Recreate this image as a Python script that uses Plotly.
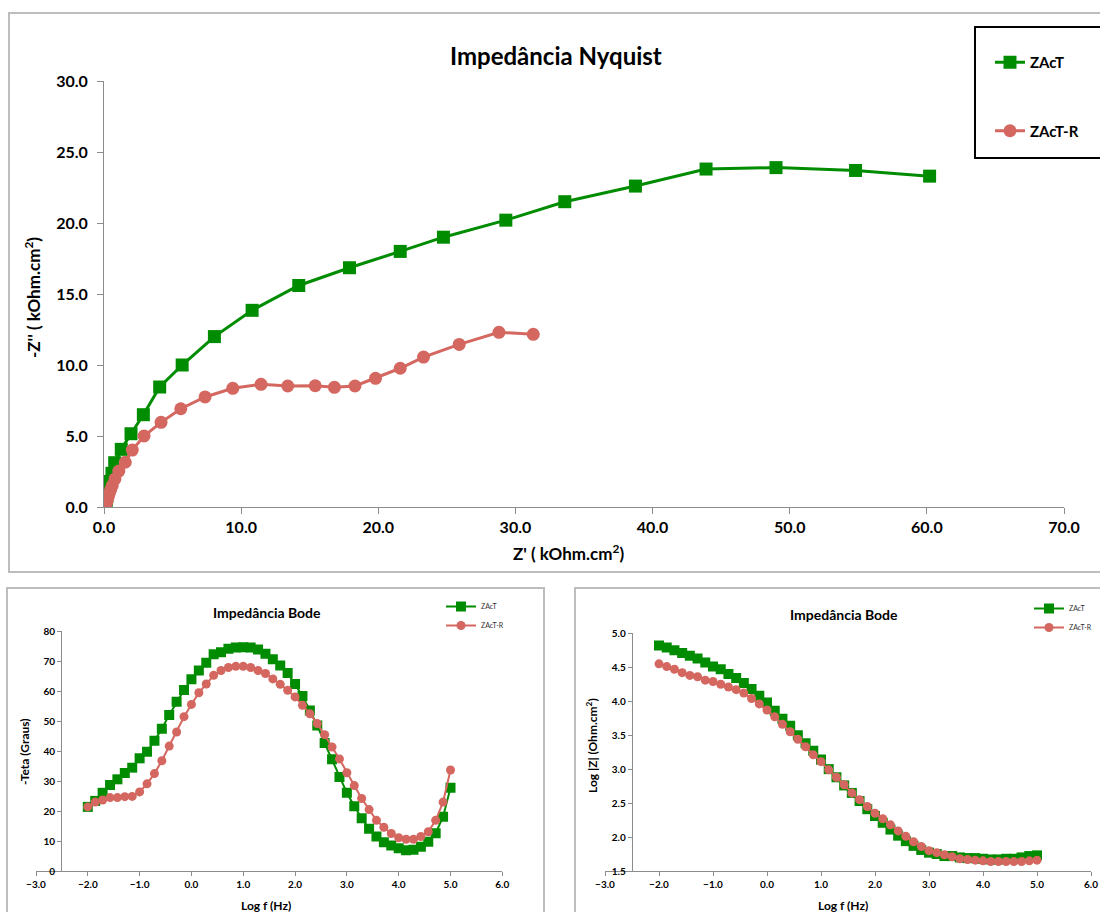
import plotly.graph_objects as go

W, H = 1100, 912
GREEN = "#008C00"
RED = "#D4675F"
AXIS = "#8C8C8C"
FONT = "Lato"

SERIES = ["ZAcT", "ZAcT-R"]

# Nyquist: real and imaginary parts (kOhm.cm2), low to high frequency
zact_re = [60.2, 54.8, 49.0, 43.9, 38.75, 33.6, 29.3, 24.75, 21.6, 17.9,
           14.2, 10.8, 8.05, 5.7, 4.06, 2.87, 1.97, 1.26, 0.78, 0.58,
           0.45, 0.34, 0.26, 0.21, 0.17, 0.15, 0.12, 0.10, 0.094, 0.085,
           0.076, 0.069, 0.064, 0.059, 0.055, 0.053, 0.052, 0.050, 0.051, 0.049,
           0.048, 0.048, 0.047, 0.046, 0.046, 0.047, 0.047, 0.049, 0.050, 0.048]
zact_im = [23.3, 23.7, 23.9, 23.8, 22.6, 21.5, 20.2, 19.0, 18.0, 16.85,
           15.6, 13.85, 12.0, 10.0, 8.45, 6.5, 5.16, 4.06, 3.12, 2.37,
           1.80, 1.33, 0.96, 0.73, 0.55, 0.42, 0.32, 0.23, 0.181, 0.138,
           0.104, 0.079, 0.059, 0.045, 0.034, 0.026, 0.021, 0.016, 0.013, 0.010,
           0.008, 0.007, 0.006, 0.006, 0.006, 0.007, 0.008, 0.011, 0.016, 0.025]
zactr_re = [31.3, 28.8, 25.9, 23.3, 21.6, 19.8, 18.3, 16.8, 15.4, 13.4,
            11.45, 9.39, 7.37, 5.6, 4.16, 2.92, 2.06, 1.55, 1.08, 0.80,
            0.60, 0.48, 0.37, 0.30, 0.24, 0.20, 0.165, 0.140, 0.118, 0.106,
            0.092, 0.080, 0.072, 0.064, 0.058, 0.053, 0.052, 0.050, 0.048, 0.046,
            0.045, 0.045, 0.044, 0.043, 0.043, 0.043, 0.043, 0.042, 0.041, 0.038]
zactr_im = [12.16, 12.3, 11.45, 10.56, 9.77, 9.06, 8.52, 8.43, 8.54, 8.52,
            8.64, 8.36, 7.75, 6.92, 5.96, 5.0, 4.01, 3.15, 2.53, 1.98,
            1.51, 1.20, 0.91, 0.70, 0.54, 0.40, 0.314, 0.245, 0.190, 0.153,
            0.120, 0.093, 0.073, 0.056, 0.044, 0.034, 0.028, 0.023, 0.018, 0.014,
            0.012, 0.010, 0.009, 0.008, 0.008, 0.009, 0.010, 0.013, 0.017, 0.025]

# Bode: log frequency (Hz)
log_f = [-2.000, -1.857, -1.714, -1.571, -1.429, -1.286, -1.143, -1.000, -0.857, -0.714,
         -0.571, -0.429, -0.286, -0.143, 0.000, 0.143, 0.286, 0.429, 0.571, 0.714,
         0.857, 1.000, 1.143, 1.286, 1.429, 1.571, 1.714, 1.857, 2.000, 2.143,
         2.286, 2.429, 2.571, 2.714, 2.857, 3.000, 3.143, 3.286, 3.429, 3.571,
         3.714, 3.857, 4.000, 4.143, 4.286, 4.429, 4.571, 4.714, 4.857, 5.000]

# Bode: -phase (degrees)
zact_phase = [21.4, 23.4, 26.1, 28.7, 30.6, 32.7, 34.5, 37.6, 39.8, 43.5,
              47.5, 52.1, 56.5, 60.4, 64.0, 66.9, 69.5, 72.3, 73.0, 74.2,
              74.6, 74.7, 74.6, 73.9, 72.5, 70.7, 68.6, 66.1, 62.4, 58.4,
              53.6, 48.6, 42.7, 37.3, 31.4, 26.1, 21.6, 17.6, 14.1, 11.5,
              9.6, 8.5, 7.6, 6.9, 7.1, 8.1, 9.8, 12.6, 18.1, 27.8]
zactr_phase = [21.4, 23.0, 23.7, 24.5, 24.5, 24.8, 24.9, 26.4, 29.1, 32.5,
               36.8, 41.7, 46.4, 51.5, 55.6, 59.5, 62.4, 65.3, 66.9, 67.9,
               68.3, 68.3, 67.9, 66.9, 65.9, 64.1, 62.3, 60.3, 58.1, 55.3,
               52.5, 49.2, 45.5, 41.4, 37.4, 32.8, 28.5, 24.2, 20.5, 16.9,
               14.6, 12.5, 11.1, 10.6, 10.6, 11.5, 13.1, 16.9, 23.0, 33.7]

# Bode: log |Z| (Ohm.cm2)
zact_logz = [4.82, 4.79, 4.75, 4.71, 4.67, 4.63, 4.57, 4.51, 4.47, 4.40,
             4.34, 4.27, 4.18, 4.08, 3.98, 3.86, 3.74, 3.64, 3.50, 3.38,
             3.27, 3.14, 3.00, 2.88, 2.76, 2.65, 2.53, 2.41, 2.31, 2.21,
             2.11, 2.02, 1.94, 1.87, 1.81, 1.77, 1.75, 1.72, 1.72, 1.70,
             1.69, 1.69, 1.68, 1.67, 1.67, 1.68, 1.68, 1.70, 1.72, 1.73]
zactr_logz = [4.55, 4.51, 4.47, 4.42, 4.38, 4.36, 4.31, 4.29, 4.25, 4.21,
              4.17, 4.12, 4.04, 3.96, 3.87, 3.77, 3.66, 3.55, 3.44, 3.33,
              3.21, 3.11, 2.99, 2.88, 2.77, 2.65, 2.55, 2.45, 2.35, 2.27,
              2.18, 2.09, 2.01, 1.93, 1.86, 1.80, 1.77, 1.74, 1.71, 1.68,
              1.67, 1.66, 1.65, 1.64, 1.64, 1.64, 1.64, 1.64, 1.65, 1.66]


def px(x):
    return x / W


def py(y):
    return 1 - y / H


fig = go.Figure()

# --- Nyquist ---
for name, xs, ys, color, sym in [
    (SERIES[0], zact_re, zact_im, GREEN, "square"),
    (SERIES[1], zactr_re, zactr_im, RED, "circle"),
]:
    fig.add_trace(go.Scatter(
        x=xs, y=ys, name=name, mode="lines+markers",
        line=dict(color=color, width=3),
        marker=dict(color=color, size=13, symbol=sym),
        xaxis="x", yaxis="y", legend="legend", legendgroup="n" + name,
    ))

# --- Bode phase ---
for name, ys, color, sym, sz in [
    (SERIES[0], zact_phase, GREEN, "square", 10),
    (SERIES[1], zactr_phase, RED, "circle", 9),
]:
    fig.add_trace(go.Scatter(
        x=log_f, y=ys, name=name, mode="lines+markers",
        line=dict(color=color, width=2),
        marker=dict(color=color, size=sz, symbol=sym),
        xaxis="x2", yaxis="y2", legend="legend2",
    ))

# --- Bode modulus ---
for name, ys, color, sym, sz in [
    (SERIES[0], zact_logz, GREEN, "square", 10),
    (SERIES[1], zactr_logz, RED, "circle", 9),
]:
    fig.add_trace(go.Scatter(
        x=log_f, y=ys, name=name, mode="lines+markers",
        line=dict(color=color, width=2),
        marker=dict(color=color, size=sz, symbol=sym),
        xaxis="x3", yaxis="y3", legend="legend3",
    ))

tickfont_big = dict(family=FONT, size=16, color="black", weight="bold")
tickfont_small = dict(family=FONT, size=10, color="black", weight="bold")
axis_common = dict(showgrid=False, zeroline=False, showline=True, linecolor=AXIS,
                   linewidth=1, ticks="outside", tickcolor=AXIS, automargin=False)

fig.update_layout(
    width=W, height=H,
    margin=dict(l=0, r=0, t=0, b=0, autoexpand=False),
    paper_bgcolor="white", plot_bgcolor="white",
    font=dict(family=FONT, color="black"),
    xaxis=dict(domain=[px(104), px(1064)], range=[0, 70], dtick=10, tickformat=".1f",
               anchor="y", ticklen=6, tickfont=tickfont_big, **axis_common),
    yaxis=dict(domain=[py(507), py(81)], range=[0, 30], dtick=5, tickformat=".1f",
               anchor="x", ticklen=6, ticklabelstandoff=6, tickfont=tickfont_big,
               **axis_common),
    xaxis2=dict(domain=[px(36), px(502.3)], range=[-3, 6], dtick=1, tickformat=".1f",
                anchor="y2", ticklen=4, tickfont=tickfont_small, **axis_common),
    yaxis2=dict(domain=[py(871), py(631.3)], range=[0, 80], dtick=10, tickformat="d",
                anchor="free", position=px(61), ticklen=4, tickfont=tickfont_small,
                **axis_common),
    xaxis3=dict(domain=[px(605), px(1091)], range=[-3, 6], dtick=1, tickformat=".1f",
                anchor="y3", ticklen=4, tickfont=tickfont_small, **axis_common),
    yaxis3=dict(domain=[py(871), py(633.3)], range=[1.5, 5.0], dtick=0.5, tickformat=".1f",
                anchor="free", position=px(631.7), ticklen=4, tickfont=tickfont_small,
                **axis_common),
    legend=dict(x=px(990), y=py(46), xanchor="left", yanchor="top",
                bgcolor="rgba(0,0,0,0)", tracegroupgap=46, traceorder="grouped",
                font=dict(family=FONT, size=15, color="black", weight="bold"),
                itemwidth=30),
    legend2=dict(x=px(441), y=py(592), xanchor="left", yanchor="top",
                 bgcolor="rgba(0,0,0,0)", tracegroupgap=0,
                 font=dict(family=FONT, size=7, color="#333"), itemwidth=30),
    legend3=dict(x=px(1029), y=py(594), xanchor="left", yanchor="top",
                 bgcolor="rgba(0,0,0,0)", tracegroupgap=0,
                 font=dict(family=FONT, size=7, color="#333"), itemwidth=30),
    showlegend=True,
)

# chart frames and the Nyquist legend box
frame = dict(type="rect", xref="paper", yref="paper", line=dict(color="#BDBDBD", width=2),
             fillcolor="rgba(0,0,0,0)", layer="below")
fig.add_shape(x0=px(9), x1=px(1110), y0=py(572), y1=py(13), **frame)
fig.add_shape(x0=px(7), x1=px(544), y0=py(925), y1=py(588), **frame)
fig.add_shape(x0=px(575), x1=px(1110), y0=py(925), y1=py(588), **frame)
fig.add_shape(type="rect", xref="paper", yref="paper", x0=px(975), x1=px(1110),
              y0=py(158), y1=py(27), line=dict(color="black", width=2),
              fillcolor="rgba(0,0,0,0)")


def label(text, x, y, size, angle=0):
    fig.add_annotation(text=text, x=px(x), y=py(y), xref="paper", yref="paper",
                       showarrow=False, textangle=angle, xanchor="center", yanchor="middle",
                       font=dict(family=FONT, size=size, color="black", weight="bold"))


label("Impedância Nyquist", 556, 56, 24)
label("Z' ( kOhm.cm<sup>2</sup>)", 569, 552, 17)
label("-Z'' ( kOhm.cm<sup>2</sup>)", 33, 298, 17, -90)

label("Impedância Bode", 267, 612, 14)
label("Log f (Hz)", 266, 905, 12)
label("-Teta (Graus)", 24, 752, 12, -90)

label("Impedância Bode", 844, 614, 14)
label("Log f (Hz)", 843, 905, 12)
label("Log |Z| (Ohm.cm<sup>2</sup>)", 592, 746, 12, -90)

fig.write_html("out.html")
